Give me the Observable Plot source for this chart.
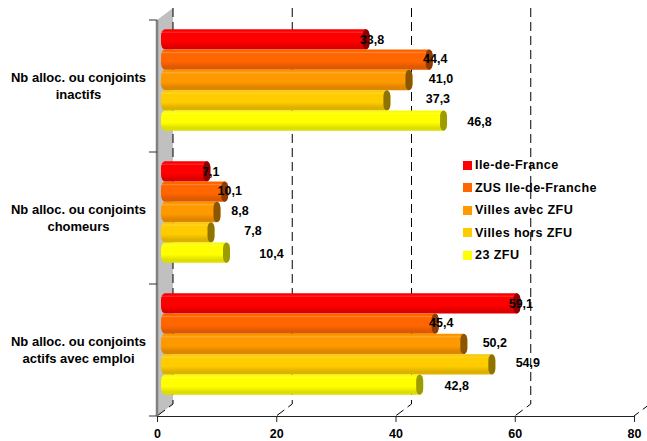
<!DOCTYPE html>
<html lang="fr">
<head>
<meta charset="utf-8">
<script src="https://cdn.jsdelivr.net/npm/d3@7"></script>
<script src="https://cdn.jsdelivr.net/npm/@observablehq/plot@0.6"></script>
<style>
  html,body{margin:0;padding:0;background:#fff;}
  #chart{position:relative;width:647px;height:441px;overflow:hidden;font-family:"Liberation Sans",Arial,sans-serif;}
  #legend{position:absolute;left:463px;top:154px;font-weight:bold;font-size:12.6px;color:#000;letter-spacing:.4px;}
  #legend div{display:flex;align-items:center;height:22.5px;white-space:nowrap;}
  #legend i{display:block;width:9px;height:9px;margin-right:3px;}
</style>
</head>
<body>
<div id="chart"></div>
<script>
const groups = [
  "Nb alloc. ou conjoints\ninactifs",
  "Nb alloc. ou conjoints\nchomeurs",
  "Nb alloc. ou conjoints\nactifs avec emploi"
];
const seriesNames = ["Ile-de-France", "ZUS Ile-de-Franche", "Villes avec ZFU", "Villes hors ZFU", "23 ZFU"];
const seriesColors = ["#ff0000", "#ff6600", "#ff9900", "#ffcc00", "#ffff00"];
const capColors = ["#8f0000", "#8f3a00", "#8c5600", "#8f7300", "#9c9c00"];
const ileDeFrance = [33.8, 7.1, 59.1];
const zusIdf = [44.4, 10.1, 45.4];
const villesAvec = [41.0, 8.8, 50.2];
const villesHors = [37.3, 7.8, 54.9];
const zfu23 = [46.8, 10.4, 42.8];
const seriesValues = [ileDeFrance, zusIdf, villesAvec, villesHors, zfu23];
const xTicks = [0, 20, 40, 60, 80];

// layout of the pseudo-3D drawing, in pixels
const depthX = 16, depthY = 12, barH = 20.3, barDx = 11, barLead = -7, capW = 7;
const barDy = [-46.6, -26.3, -6, 14.3, 34.6];
const labelDy = [-47, -27.5, -7.5, 12.5, 35.5];
const labelDx = [
  [13, 11, 11],
  [13, 12, 13],
  [39, 30, 38],
  [58, 49, 43],
  [43, 52, 44]
];

function grid(index, {x}, values, dims) {
  const bottom = dims.height - dims.marginBottom, top = dims.marginTop;
  const g = d3.create("svg:g");
  const x0 = x(0);
  g.append("polygon")
    .attr("points", [[x0, top], [x0 + depthX, top - depthY], [x0 + depthX, bottom - depthY], [x0, bottom]].join(" "))
    .attr("fill", "#c0c0c0");
  for (const t of xTicks) {
    const px = x(t);
    const pts = t === xTicks[xTicks.length - 1]
      ? [[px + depthX, bottom - depthY], [px, bottom]]
      : [[px + depthX, top - depthY], [px + depthX, bottom - depthY], [px, bottom]];
    g.append("polyline").attr("points", pts.join(" "))
      .attr("fill", "none").attr("stroke", "#000").attr("stroke-dasharray", "9 5");
  }
  g.append("line").attr("x1", x0).attr("x2", x0).attr("y1", top).attr("y2", bottom)
    .attr("stroke", "#808080").attr("stroke-width", 2.5);
  const step = (bottom - top) / groups.length;
  for (let i = 0; i <= groups.length; i++) {
    g.append("line").attr("x1", x0 - 8).attr("x2", x0).attr("y1", top + i * step).attr("y2", top + i * step)
      .attr("stroke", "#333");
  }
  return g.node();
}

const toRows = (vals) => vals.map((v, i) => ({group: groups[i], value: v}));
const inset = (groupH) => (groupH - barH) / 2;
const bandH = 132;
const barMarks = seriesValues.flatMap((vals, s) => [
  Plot.barX(toRows(vals), {
    x1: 0, x2: "value", y: "group",
    dx: barDx, dy: barDy[s],
    insetLeft: barLead, insetTop: inset(bandH), insetBottom: inset(bandH),
    rx: 4, ry: 7,
    fill: `url(#grad${s})`
  }),
  Plot.barX(toRows(vals), {
    x1: "value", x2: "value", y: "group",
    dx: barDx, dy: barDy[s],
    insetLeft: -capW, insetRight: 0, insetTop: inset(bandH), insetBottom: inset(bandH),
    rx: capW / 2, ry: 6,
    fill: capColors[s]
  })
]);
const labelMarks = seriesValues.flatMap((vals, s) => vals.map((v, g) =>
  Plot.text([{group: groups[g], value: v}], {
    x: "value", y: "group",
    text: d => d.value.toFixed(1).replace(".", ","),
    dx: labelDx[s][g], dy: labelDy[s],
    fontSize: 12.5, fontWeight: "bold", fill: "#000"
  })
));

const plot = Plot.plot({
  width: 647, height: 441,
  marginLeft: 157, marginRight: 13, marginTop: 20, marginBottom: 25,
  style: {fontFamily: '"Liberation Sans", Arial, sans-serif', background: "#fff", overflow: "visible"},
  x: {domain: [0, 80]},
  y: {domain: groups, padding: 0, axis: null},
  marks: [
    grid,
    Plot.frame({anchor: "bottom", stroke: "#222"}),
    Plot.axisX({ticks: xTicks, tickSize: 6, tickPadding: 7, label: null, fontSize: 12.5, fontWeight: "bold", fill: "#000", stroke: "#222", tickFormat: d => String(d)}),
    ...barMarks,
    ...labelMarks,
    Plot.text(groups, {
      y: d => d, text: d => d,
      frameAnchor: "left", dx: -79, dy: -1.5, textAnchor: "middle",
      fontSize: 13, fontWeight: "bold", fill: "#000", lineHeight: 1.31
    })
  ]
});

// vertical cylinder shading for the bars
const ns = "http://www.w3.org/2000/svg";
const defs = document.createElementNS(ns, "defs");
seriesColors.forEach((c, s) => {
  const grad = document.createElementNS(ns, "linearGradient");
  grad.setAttribute("id", `grad${s}`);
  grad.setAttribute("x1", 0); grad.setAttribute("x2", 0); grad.setAttribute("y1", 0); grad.setAttribute("y2", 1);
  const base = d3.color(c);
  const light = d3.interpolateRgb(c, "#fff")(0.22);
  const dark = d3.interpolateRgb(c, "#000")(0.13);
  [[0, d3.interpolateRgb(c, "#000")(0.04)], [0.1, c], [0.14, light], [0.2, c], [0.6, base.formatHex()], [0.85, dark], [1, dark]].forEach(([o, col]) => {
    const st = document.createElementNS(ns, "stop");
    st.setAttribute("offset", o); st.setAttribute("stop-color", col);
    grad.appendChild(st);
  });
  defs.appendChild(grad);
});
plot.insertBefore(defs, plot.firstChild);

const chart = document.getElementById("chart");
chart.appendChild(plot);
const legend = document.createElement("div");
legend.id = "legend";
seriesNames.forEach((n, i) => {
  const row = document.createElement("div");
  const sw = document.createElement("i");
  sw.style.background = seriesColors[i];
  row.appendChild(sw);
  row.appendChild(document.createTextNode(n));
  legend.appendChild(row);
});
chart.appendChild(legend);
</script>
</body>
</html>
